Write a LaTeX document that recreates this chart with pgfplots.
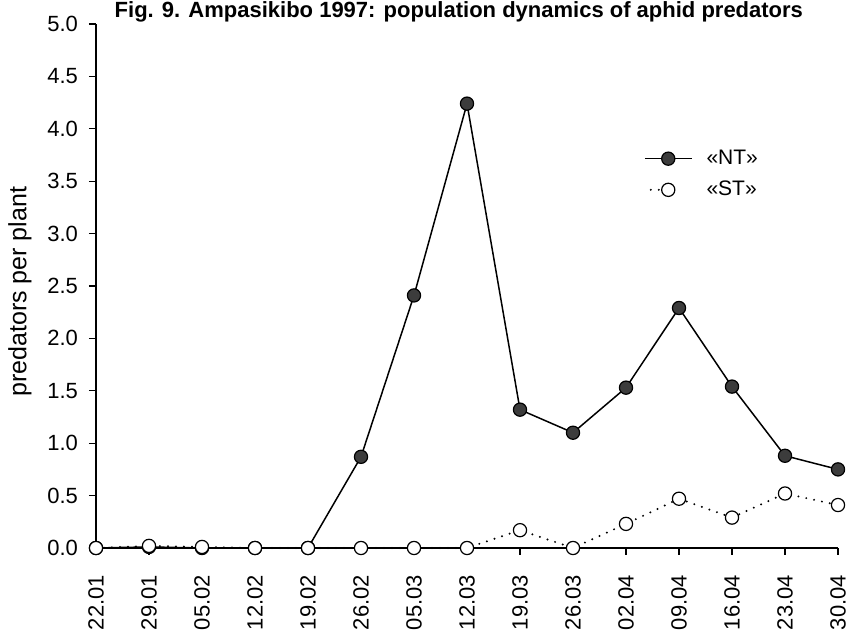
\documentclass[border=0pt]{standalone}
\usepackage{fontspec}
\setmainfont{Liberation Sans}
\usepackage{pgfplots}
\pgfplotsset{compat=1.18}

\definecolor{ntfill}{HTML}{3C3C3C}

% legend sample for the dotted series: dots only before the circle
\pgfplotsset{stlegend/.style={legend image code/.code={%
  \draw[mark repeat=2,mark phase=2,##1] plot coordinates {(3pt,0pt) (11.75pt,0pt) (11.75pt,0pt)};}}}

% weekly counts, weeks numbered 0..14 (22.01 ... 30.04)
\pgfplotstableread{
wk  nt    st
0   0.00  0.00
1   0.01  0.02
2   0.00  0.01
3   0.00  0.00
4   0.00  0.00
5   0.87  0.00
6   2.41  0.00
7   4.24  0.00
8   1.32  0.17
9   1.10  0.00
10  1.53  0.23
11  2.29  0.47
12  1.54  0.29
13  0.88  0.52
14  0.75  0.41
}\predtable

\begin{document}
\begin{tikzpicture}
\begin{axis}[
  name=ax,
  scale only axis,
  width=371pt, height=262pt,
  xmin=0, xmax=14, ymin=0, ymax=5,
  clip=false,
  axis x line*=bottom, axis y line*=left,
  axis line style={line width=0.7pt},
  tick style={line width=0.6pt, black},
  tick align=outside,
  major tick length=3.5pt,
  xtick={0,...,14},
  xticklabels={22.01,29.01,05.02,12.02,19.02,26.02,05.03,12.03,19.03,26.03,02.04,09.04,16.04,23.04,30.04},
  xticklabel style={yshift=-6.5pt, rotate=90, anchor=east, font=\fontsize{11}{13}\selectfont},
  ytick={0,0.5,1,1.5,2,2.5,3,3.5,4,4.5,5},
  yticklabel style={font=\fontsize{11}{13}\selectfont, xshift=-2pt},
  /pgf/number format/.cd, fixed, fixed zerofill, precision=1, assume math mode=true,
  /pgfplots/.cd,
  ylabel={predators per plant},
  ylabel style={at={(rel axis cs:-0.1024,0.489)}, anchor=center, font=\fontsize{12.5}{15}\selectfont},
  every axis title shift=0pt,
  title={Fig. 9. Ampasikibo 1997: population dynamics of aphid predators},
  title style={at={(rel axis cs:0.489,1)}, anchor=base, inner sep=0pt, yshift=3pt, font=\bfseries\fontsize{11}{13}\selectfont},
  legend style={at={(rel axis cs:0.738,0.768)}, anchor=north west, draw=none, fill=none,
    font=\fontsize{10.5}{12}\selectfont, row sep=2.8pt, column sep=5pt, inner sep=0pt},
  legend cell align=left,
  legend image code/.code={\draw[mark repeat=2,mark phase=2,#1] plot coordinates {(0pt,0pt) (11.75pt,0pt) (23.5pt,0pt)};},
]
\addplot[black, line width=0.75pt, mark=*, mark size=3.3pt,
  mark options={fill=ntfill, draw=black, line width=0.6pt, solid}]
  table[x=wk, y=nt] {\predtable};
\addlegendentry{«NT»}
\addplot[black, line width=1.1pt, line cap=round, dash pattern=on 0pt off 4pt,
  mark=*, mark size=3.3pt,
  mark options={fill=white, draw=black, line width=0.6pt, solid}, stlegend]
  table[x=wk, y=st] {\predtable};
\addlegendentry{«ST»}
\end{axis}
\pgfresetboundingbox
\path[use as bounding box] ([shift={(-48pt,-42.5pt)}]ax.south west) rectangle ([shift={(5.5pt,12pt)}]ax.north east);
\end{tikzpicture}
\end{document}
